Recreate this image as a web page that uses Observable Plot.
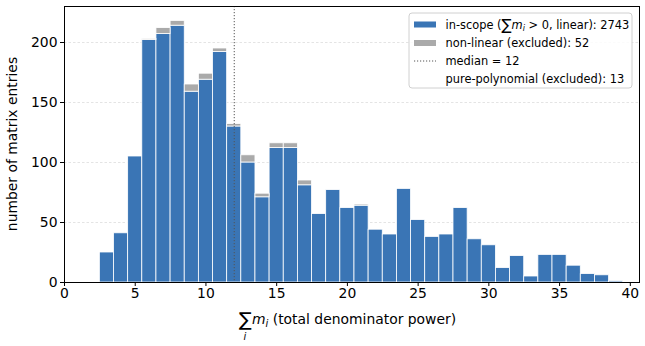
<!DOCTYPE html>
<html>
<head>
<meta charset="utf-8">
<script src="https://cdn.jsdelivr.net/npm/d3@7"></script>
<script src="https://cdn.jsdelivr.net/npm/@observablehq/plot@0.6"></script>
<style>
  body { margin: 0; background: #fff; }
  svg text { font-family: "DejaVu Sans", sans-serif; }
</style>
</head>
<body>
<div id="chart"></div>
<script>
// total denominator power (bin centres)
const denomPower = d3.range(3, 40);
// in-scope entries per bin
const inScope = [25, 41, 105, 202, 207, 214, 159, 169, 192, 130, 100, 71, 112, 112, 81, 57, 77, 62,
                 64, 44, 40, 78, 52, 38, 40, 62, 36, 31, 12, 22, 5, 23, 23, 14, 7, 6, 1];
// non-linear (excluded) entries, stacked on top
const nonLinear = [0, 0, 0, 1, 5, 4, 6, 5, 3, 2, 6, 3, 4, 4, 4, 0, 0, 0,
                   1, 0, 0, 0, 0, 0, 0, 0, 0, 0, 0, 0, 0, 0, 0, 0, 0, 0, 0];
const medianPower = 12;
const xTicks = [0, 5, 10, 15, 20, 25, 30, 35, 40];
const yTicks = [0, 50, 100, 150, 200];
const legendCounts = {inScope: 2743, nonLinear: 52, purePolynomial: 13};

const blue = "#3a75b5";
const grey = "#aaaaaa";
const fontMedium = 13.9;
const fontSmall = 11.4;

const bins = denomPower.map((x, i) => ({x, a: inScope[i], b: nonLinear[i]}));

const plot = Plot.plot({
  width: 645,
  height: 346,
  marginLeft: 64,
  marginRight: 6,
  marginTop: 6,
  marginBottom: 64,
  style: {fontFamily: "DejaVu Sans, sans-serif", fontSize: `${fontMedium}px`, background: "white"},
  x: {domain: [0, 40.65], ticks: xTicks, label: null},
  y: {domain: [0, 230], ticks: yTicks, label: null},
  marks: [
    Plot.gridY(yTicks.slice(1), {stroke: "#d9d9d9", strokeOpacity: 1, strokeDasharray: "2.5,2", strokeWidth: 0.7}),
    Plot.rect(bins, {
      x1: d => d.x - 0.5, x2: d => d.x + 0.5, y1: 0, y2: "a",
      fill: blue, stroke: "white", strokeWidth: 0.8
    }),
    Plot.rect(bins.filter(d => d.b > 0), {
      x1: d => d.x - 0.5, x2: d => d.x + 0.5, y1: "a", y2: d => d.a + d.b,
      fill: grey, stroke: "white", strokeWidth: 0.8
    }),
    Plot.ruleX([medianPower], {stroke: "#555", strokeWidth: 1, strokeDasharray: "1.2,1.8"}),
    Plot.axisX({ticks: xTicks, tickSize: 4, tickPadding: 2, fontSize: fontMedium, color: "black", label: null}),
    Plot.axisY({ticks: yTicks, tickSize: 4, tickPadding: 3, fontSize: fontMedium, color: "black", label: null}),
    Plot.frame({stroke: "black", strokeWidth: 1})
  ]
});

document.getElementById("chart").appendChild(plot);

const svg = d3.select(plot);

// y-axis title
svg.append("text")
  .attr("transform", "translate(17,144) rotate(-90)")
  .attr("text-anchor", "middle")
  .attr("font-size", fontMedium)
  .attr("fill", "black")
  .text("number of matrix entries");

// x-axis title: Σ_i m_i (total denominator power)
const xt = svg.append("g").attr("transform", "translate(239,326)").attr("text-anchor", "start");
xt.append("text").attr("x", 0).attr("y", 0).attr("font-size", 19).attr("fill", "black").text("∑");
xt.append("text").attr("x", 4.5).attr("y", 13.5).attr("font-size", 10).attr("font-style", "italic").attr("fill", "black").text("i");
const xl = xt.append("text").attr("x", 13).attr("y", -2).attr("font-size", fontMedium).attr("fill", "black");
xl.append("tspan").attr("font-style", "italic").text("m");
xl.append("tspan").attr("font-style", "italic").attr("font-size", 10).attr("dy", 3).text("i");
xl.append("tspan").attr("dy", -3).text(" (total denominator power)");

// legend
const lg = svg.append("g").attr("transform", "translate(409,13)").attr("text-anchor", "start");
lg.append("rect").attr("width", 223).attr("height", 75).attr("rx", 3)
  .attr("fill", "white").attr("fill-opacity", 0.85).attr("stroke", "#d0d0d0").attr("stroke-width", 1);
const rowY = [11.5, 30, 48, 65.5];
lg.append("rect").attr("x", 5).attr("y", rowY[0] - 3).attr("width", 22).attr("height", 6).attr("fill", blue);
lg.append("rect").attr("x", 5).attr("y", rowY[1] - 3).attr("width", 22).attr("height", 6).attr("fill", grey);
lg.append("line").attr("x1", 5).attr("x2", 27).attr("y1", rowY[2]).attr("y2", rowY[2])
  .attr("stroke", "#555").attr("stroke-width", 1).attr("stroke-dasharray", "1.2,1.8");

const tx = 36.5;
const t0 = lg.append("text").attr("x", tx).attr("y", rowY[0] + 4).attr("font-size", fontSmall).attr("fill", "black");
t0.append("tspan").text("in-scope (");
t0.append("tspan").attr("font-size", 15).attr("dy", 1.5).text("∑");
t0.append("tspan").attr("font-style", "italic").attr("dy", -1.5).text("m");
t0.append("tspan").attr("font-style", "italic").attr("font-size", 8).attr("dy", 2).text("i");
t0.append("tspan").attr("dy", -2).text(` > 0, linear): ${legendCounts.inScope}`);
lg.append("text").attr("x", tx).attr("y", rowY[1] + 4).attr("font-size", fontSmall).attr("fill", "black")
  .text(`non-linear (excluded): ${legendCounts.nonLinear}`);
lg.append("text").attr("x", tx).attr("y", rowY[2] + 4).attr("font-size", fontSmall).attr("fill", "black")
  .text(`median = ${medianPower}`);
lg.append("text").attr("x", tx).attr("y", rowY[3] + 4).attr("font-size", fontSmall).attr("fill", "black")
  .text(`pure-polynomial (excluded): ${legendCounts.purePolynomial}`);
</script>
</body>
</html>
